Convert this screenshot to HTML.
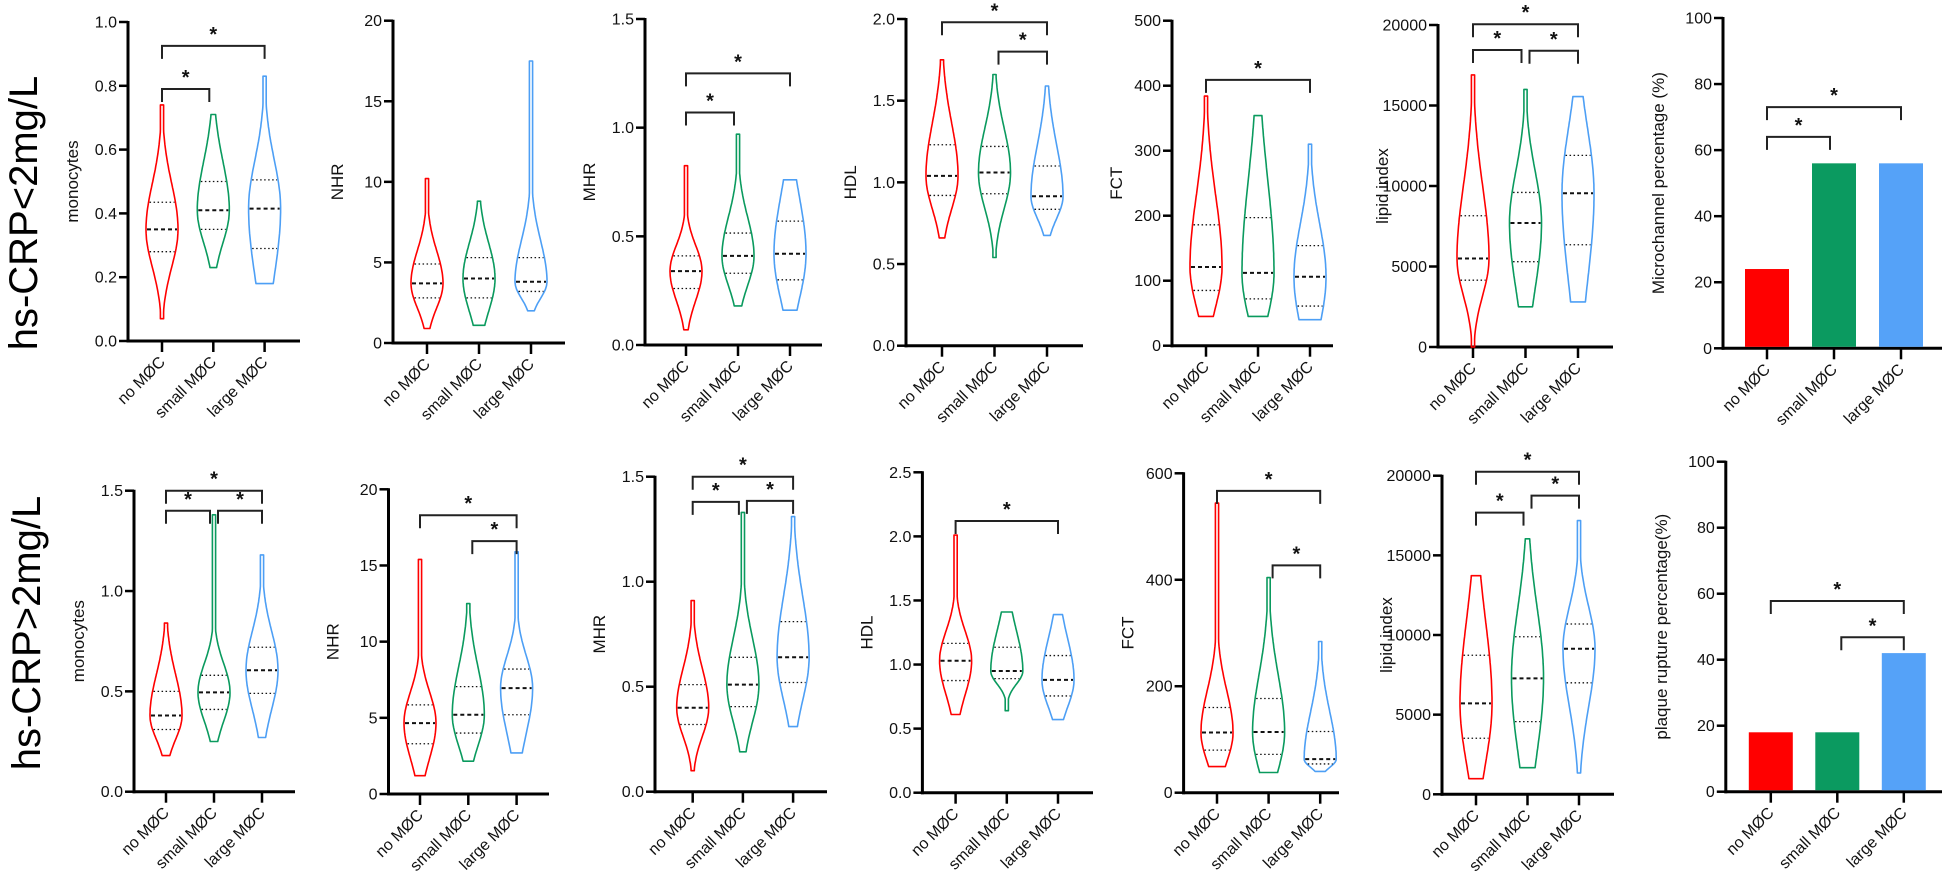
<!DOCTYPE html>
<html><head><meta charset="utf-8"><style>
html,body{margin:0;padding:0;background:#fff;}
svg{display:block;font-family:"Liberation Sans",Arial,sans-serif;}
</style></head><body>
<svg id="fig" width="1943" height="875" viewBox="0 0 1943 875"></svg>
<script>
const categories = ["no MØC","small MØC","large MØC"];
// ---- Row 1 (hs-CRP<2mg/L) ----
const r1MonoMin=[0.07,0.23,0.18], r1MonoQ1=[0.28,0.35,0.29], r1MonoMed=[0.35,0.41,0.415], r1MonoQ3=[0.435,0.50,0.505], r1MonoMax=[0.74,0.71,0.83];
const r1NhrMin=[0.9,1.1,2.0], r1NhrQ1=[2.8,2.8,3.2], r1NhrMed=[3.7,4.0,3.8], r1NhrQ3=[4.9,5.3,5.3], r1NhrMax=[10.2,8.8,17.5];
const r1MhrMin=[0.07,0.18,0.16], r1MhrQ1=[0.26,0.33,0.30], r1MhrMed=[0.34,0.41,0.42], r1MhrQ3=[0.41,0.515,0.57], r1MhrMax=[0.825,0.97,0.76];
const r1HdlMin=[0.66,0.54,0.675], r1HdlQ1=[0.92,0.93,0.835], r1HdlMed=[1.04,1.06,0.915], r1HdlQ3=[1.23,1.22,1.10], r1HdlMax=[1.75,1.66,1.59];
const r1FctMin=[45,45,40], r1FctQ1=[85,72,61], r1FctMed=[121,112,106], r1FctQ3=[186,197,154], r1FctMax=[384,354,310];
const r1LipMin=[0,2500,2800], r1LipQ1=[4150,5300,6350], r1LipMed=[5500,7700,9550], r1LipQ3=[8150,9600,11900], r1LipMax=[16900,16000,15550];
const r1BarValues=[24,56,56];
// ---- Row 2 (hs-CRP>2mg/L) ----
const r2MonoMin=[0.18,0.25,0.27], r2MonoQ1=[0.31,0.41,0.49], r2MonoMed=[0.38,0.495,0.605], r2MonoQ3=[0.50,0.58,0.72], r2MonoMax=[0.84,1.38,1.18];
const r2NhrMin=[1.2,2.15,2.7], r2NhrQ1=[3.3,4.0,5.2], r2NhrMed=[4.65,5.2,6.95], r2NhrQ3=[5.85,7.05,8.2], r2NhrMax=[15.4,12.5,15.9];
const r2MhrMin=[0.10,0.19,0.31], r2MhrQ1=[0.32,0.405,0.52], r2MhrMed=[0.40,0.51,0.64], r2MhrQ3=[0.51,0.64,0.81], r2MhrMax=[0.91,1.33,1.31];
const r2HdlMin=[0.61,0.64,0.57], r2HdlQ1=[0.875,0.89,0.755], r2HdlMed=[1.03,0.95,0.88], r2HdlQ3=[1.165,1.135,1.07], r2HdlMax=[2.01,1.41,1.39];
const r2FctMin=[49,38,40], r2FctQ1=[80,72,54], r2FctMed=[113,114,63], r2FctQ3=[160,177,115], r2FctMax=[544,404,284];
const r2LipMin=[980,1670,1340], r2LipQ1=[3520,4560,7000], r2LipMed=[5710,7280,9140], r2LipQ3=[8730,9890,10690], r2LipMax=[13720,16040,17180];
const r2BarValues=[18,18,42];
// significance brackets: [groupA, groupB, value level]
const r1MonoSig=[[0,1,0.79],[0,2,0.925]];
const r1MhrSig=[[0,1,1.07],[0,2,1.25]];
const r1HdlSig=[[0,2,1.98],[1,2,1.80]];
const r1FctSig=[[0,2,409]];
const r1LipSig=[[0,1,18450],[1,2,18400],[0,2,20050]];
const r1BarSig=[[0,1,64],[0,2,73]];
const r2MonoSig=[[0,1,1.40],[1,2,1.40],[0,2,1.50]];
const r2NhrSig=[[0,2,18.3],[1,2,16.6]];
const r2MhrSig=[[0,1,1.38],[1,2,1.385],[0,2,1.50]];
const r2HdlSig=[[0,2,2.12]];
const r2FctSig=[[0,2,567],[1,2,427]];
const r2LipSig=[[0,1,17680],[1,2,18750],[0,2,20250]];
const r2BarSig=[[0,2,57.8],[1,2,46.8]];

const COLORS=["#ff0000","#0a9a5e","#4d9ff5"];
const BARCOLORS=["#ff0000","#0b9a60","#55a2f8"];
const NS="http://www.w3.org/2000/svg";
const svg=document.getElementById('fig');
function el(tag,attrs,parent){const e=document.createElementNS(NS,tag);for(const k in attrs)e.setAttribute(k,attrs[k]);(parent||svg).appendChild(e);return e;}

function makeAxes(p,g){
  const yScale=v=>p.yBot-(v/p.max)*(p.yBot-p.yTop);
  const xScale=i=>p.ax+p.off+i*p.sp;
  const ya=el('line',{x1:p.ax,y1:p.yTop-1,x2:p.ax,y2:p.yBot+1.5,stroke:'#000','stroke-width':3},g);
  
  
  const xa=el('line',{x1:p.ax-1.5,y1:p.yBot,x2:p.xEnd,y2:p.yBot,stroke:'#000','stroke-width':3},g);
  
  
  for(let v=0;v<=p.max+1e-9;v+=p.step){
    const y=yScale(v);
    el('line',{x1:p.ax-9,y1:y,x2:p.ax,y2:y,stroke:'#000','stroke-width':2.5},g);
    const t=el('text',{x:p.ax-11,y:y+5.5,'text-anchor':'end','font-size':16,fill:'#111'},g);
    t.textContent=p.dec?v.toFixed(1):String(Math.round(v));
    
    
  }
  categories.forEach((c,i)=>{
    const x=xScale(i);
    el('line',{x1:x,y1:p.yBot,x2:x,y2:p.yBot+11,stroke:'#000','stroke-width':2.5},g);
    const t=el('text',{x:x+4,y:p.yBot+22,'text-anchor':'end','font-size':16,fill:'#111',transform:`rotate(-45 ${x+4} ${p.yBot+22})`},g);
    t.textContent=c;
    
    
  });
  const lx=p.ax-(p.lblOff||50), ly=(p.yTop+p.yBot)/2;
  const lab=el('text',{x:lx,y:ly,'text-anchor':'middle','font-size':17,fill:'#111',transform:`rotate(-90 ${lx} ${ly})`},g);
  lab.textContent=p.label;
  
  
  return {yScale,xScale};
}

function drawSig(p,sig,s,g){
  sig.forEach(b=>{
    const [a,c,v]=b;
    const y=s.yScale(v);
    let x1=s.xScale(a), x2=s.xScale(c);
    if(c-a===1){ if(a===1) x1+=4; else x2-=4; }
    const br=el('path',{d:`M${x1} ${y+13} L${x1} ${y} L${x2} ${y} L${x2} ${y+13}`,fill:'none',stroke:'#222','stroke-width':2},g);
    
    
    const st=el('text',{x:(x1+x2)/2,y:y-5,'text-anchor':'middle','font-size':20,'font-weight':'bold',fill:'#111'},g);
    st.textContent='*';
    
    
  });
}

function violinPanel(p,mins,q1s,meds,q3s,maxs,sig){
  const g=el('g',{});
  
  
  const s=makeAxes(p,g);
  const W=p.W||16;
  categories.forEach((c,i)=>{
    const cx=s.xScale(i), mn=mins[i], mx=maxs[i], md=meds[i];
    const sLo=Math.max((md-q1s[i])/0.674,1e-6), sHi=Math.max((q3s[i]-md)/0.674,1e-6);
    const hw=v=>{const sd=v<md?sLo:sHi;const z=(v-md)/sd;return Math.max(1.6,W*Math.exp(-z*z/2.6));};
    const N=70, right=[], left=[];
    for(let k=0;k<=N;k++){const v=mn+(mx-mn)*k/N;const y=s.yScale(v);const w=hw(v);right.push([cx+w,y]);left.push([cx-w,y]);}
    let d='M'+left[0][0].toFixed(1)+' '+left[0][1].toFixed(1);
    right.forEach(pt=>d+=' L'+pt[0].toFixed(1)+' '+pt[1].toFixed(1));
    left.slice().reverse().forEach(pt=>d+=' L'+pt[0].toFixed(1)+' '+pt[1].toFixed(1));
    d+=' Z';
    const vp=el('path',{d,fill:'none',stroke:COLORS[i],'stroke-width':1.6,'stroke-linejoin':'round'},g);
    
    
    [[q1s[i],'dot'],[md,'med'],[q3s[i],'dot']].forEach(([v,t])=>{
      const y=s.yScale(v), w=hw(v)-1;
      const ln=el('line',{x1:cx-w,y1:y,x2:cx+w,y2:y,stroke:'#111','stroke-width':t==='med'?2:1.3,'stroke-dasharray':t==='med'?'4 3':'1.5 2.5'},g);
      
      
    });
  });
  drawSig(p,sig,s,g);
}

function barPanel(p,vals,sig){
  const g=el('g',{});
  
  
  const s=makeAxes(p,g);
  vals.forEach((v,i)=>{
    const cx=s.xScale(i), y=s.yScale(v);
    const r=el('rect',{x:cx-22,y:y,width:44,height:p.yBot-y-1.5,fill:BARCOLORS[i]},g);
    
    
  });
  drawSig(p,sig,s,g);
}

[["hs-CRP<2mg/L",24,213],["hs-CRP>2mg/L",27,633]].forEach((r,i)=>{
  const t=el('text',{x:r[1],y:r[2],'text-anchor':'middle','font-size':40,fill:'#000',transform:`rotate(-90 ${r[1]} ${r[2]})`,'dominant-baseline':'central'});
  t.textContent=r[0];
  
  
});

// Row 1
violinPanel({name:'r1-monocytes',ax:128,yTop:22,yBot:341,max:1.0,step:0.2,dec:true,off:34,sp:51.3,xEnd:300,label:'monocytes'},r1MonoMin,r1MonoQ1,r1MonoMed,r1MonoQ3,r1MonoMax,r1MonoSig);
violinPanel({name:'r1-nhr',ax:393,yTop:20.7,yBot:343,max:20,step:5,off:34,sp:52,xEnd:565,label:'NHR'},r1NhrMin,r1NhrQ1,r1NhrMed,r1NhrQ3,r1NhrMax,[]);
violinPanel({name:'r1-mhr',ax:645,yTop:19,yBot:345,max:1.5,step:0.5,dec:true,off:41,sp:52,xEnd:822,label:'MHR'},r1MhrMin,r1MhrQ1,r1MhrMed,r1MhrQ3,r1MhrMax,r1MhrSig);
violinPanel({name:'r1-hdl',ax:906,yTop:19,yBot:345.7,max:2.0,step:0.5,dec:true,off:36,sp:52.5,xEnd:1083,label:'HDL'},r1HdlMin,r1HdlQ1,r1HdlMed,r1HdlQ3,r1HdlMax,r1HdlSig);
violinPanel({name:'r1-fct',ax:1172,yTop:20.7,yBot:345.7,max:500,step:100,off:34,sp:52,xEnd:1333,label:'FCT'},r1FctMin,r1FctQ1,r1FctMed,r1FctQ3,r1FctMax,r1FctSig);
violinPanel({name:'r1-lipid-index',ax:1438,yTop:25,yBot:347,max:20000,step:5000,off:35,sp:52.5,xEnd:1613,label:'lipid index'},r1LipMin,r1LipQ1,r1LipMed,r1LipQ3,r1LipMax,r1LipSig);
barPanel({name:'r1-microchannel-bar',ax:1723,yTop:18,yBot:348.3,max:100,step:20,off:44,sp:67,xEnd:1942,label:'Microchannel percentage (%)',lblOff:59},r1BarValues,r1BarSig);

// Row 2
violinPanel({name:'r2-monocytes',ax:134,yTop:490.7,yBot:791.7,max:1.5,step:0.5,dec:true,off:32,sp:48,xEnd:295,label:'monocytes'},r2MonoMin,r2MonoQ1,r2MonoMed,r2MonoQ3,r2MonoMax,r2MonoSig);
violinPanel({name:'r2-nhr',ax:388.5,yTop:489.3,yBot:794,max:20,step:5,off:31.5,sp:48.3,xEnd:549,label:'NHR'},r2NhrMin,r2NhrQ1,r2NhrMed,r2NhrQ3,r2NhrMax,r2NhrSig);
violinPanel({name:'r2-mhr',ax:655,yTop:476.7,yBot:791.7,max:1.5,step:0.5,dec:true,off:37.7,sp:50.2,xEnd:827,label:'MHR'},r2MhrMin,r2MhrQ1,r2MhrMed,r2MhrQ3,r2MhrMax,r2MhrSig);
violinPanel({name:'r2-hdl',ax:922.4,yTop:472.3,yBot:792.7,max:2.5,step:0.5,dec:true,off:33.2,sp:51.2,xEnd:1093,label:'HDL'},r2HdlMin,r2HdlQ1,r2HdlMed,r2HdlQ3,r2HdlMax,r2HdlSig);
violinPanel({name:'r2-fct',ax:1183.6,yTop:473.3,yBot:792.7,max:600,step:200,off:33.4,sp:51.6,xEnd:1339,label:'FCT'},r2FctMin,r2FctQ1,r2FctMed,r2FctQ3,r2FctMax,r2FctSig);
violinPanel({name:'r2-lipid-index',ax:1442,yTop:475.7,yBot:794.3,max:20000,step:5000,off:34,sp:51.5,xEnd:1614,label:'lipid index'},r2LipMin,r2LipQ1,r2LipMed,r2LipQ3,r2LipMax,r2LipSig);
barPanel({name:'r2-plaque-rupture-bar',ax:1725.8,yTop:461.7,yBot:791.7,max:100,step:20,off:45,sp:66.5,xEnd:1942,label:'plaque rupture percentage(%)',lblOff:59},r2BarValues,r2BarSig);
</script>
</body></html>
